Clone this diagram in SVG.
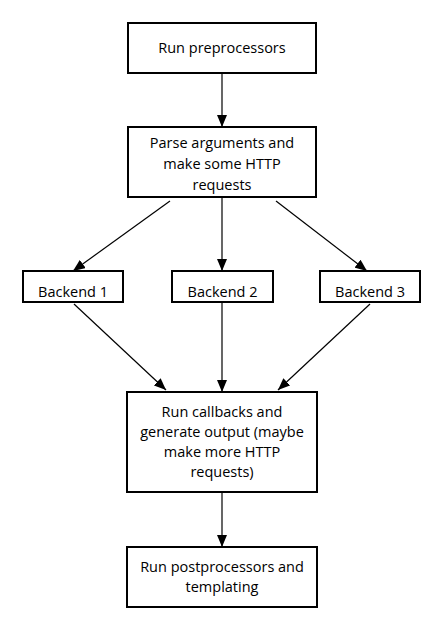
<svg xmlns="http://www.w3.org/2000/svg" width="442" height="630" viewBox="0 0 442 630">
<style>
.box{fill:#fff;stroke:#000;stroke-width:2}
.t{font-family:"Open Sans","Noto Sans",sans-serif;font-size:14.5px;fill:#000;text-anchor:middle}
.c{stroke:#000;stroke-width:1.2;fill:none;marker-end:url(#ah)}
</style>
<defs>
<marker id="ah" viewBox="0 0 12 10" refX="12" refY="5" markerWidth="12" markerHeight="10" markerUnits="userSpaceOnUse" orient="auto">
<path d="M0,0 L12,5 L0,10 Z" fill="#000"/>
</marker>
</defs>
<rect width="442" height="630" fill="#fff"/>
<g id="connectors">
<line class="c" x1="222" y1="73" x2="222" y2="127"/>
<line class="c" x1="170" y1="201" x2="73" y2="271"/>
<line class="c" x1="222" y1="197" x2="222" y2="271"/>
<line class="c" x1="276" y1="201" x2="367" y2="271"/>
<line class="c" x1="74" y1="304" x2="166" y2="390"/>
<line class="c" x1="222" y1="302" x2="222" y2="392"/>
<line class="c" x1="370" y1="304" x2="278" y2="390"/>
<line class="c" x1="222" y1="492" x2="222" y2="547"/>
</g>
<g id="n1">
<rect class="box" x="128" y="23" width="188" height="50"/>
<text class="t" x="222" y="53">Run preprocessors</text>
</g>
<g id="n2">
<rect class="box" x="128" y="127" width="188" height="70"/>
<text class="t" x="222" y="148">Parse arguments and</text>
<text class="t" x="222" y="169">make some HTTP</text>
<text class="t" x="222" y="190">requests</text>
</g>
<g id="b1">
<rect class="box" x="23" y="271" width="100" height="31"/>
<text class="t" x="73" y="297">Backend 1</text>
</g>
<g id="b2">
<rect class="box" x="172" y="271" width="101" height="31"/>
<text class="t" x="222.5" y="297">Backend 2</text>
</g>
<g id="b3">
<rect class="box" x="320" y="271" width="100" height="31"/>
<text class="t" x="370" y="297">Backend 3</text>
</g>
<g id="n4">
<rect class="box" x="127" y="392" width="190" height="100"/>
<text class="t" x="222" y="417">Run callbacks and</text>
<text class="t" x="222" y="437">generate output (maybe</text>
<text class="t" x="222" y="457">make more HTTP</text>
<text class="t" x="222" y="477">requests)</text>
</g>
<g id="n5">
<rect class="box" x="127" y="547" width="190" height="60"/>
<text class="t" x="222" y="572">Run postprocessors and</text>
<text class="t" x="222" y="592">templating</text>
</g>
</svg>
